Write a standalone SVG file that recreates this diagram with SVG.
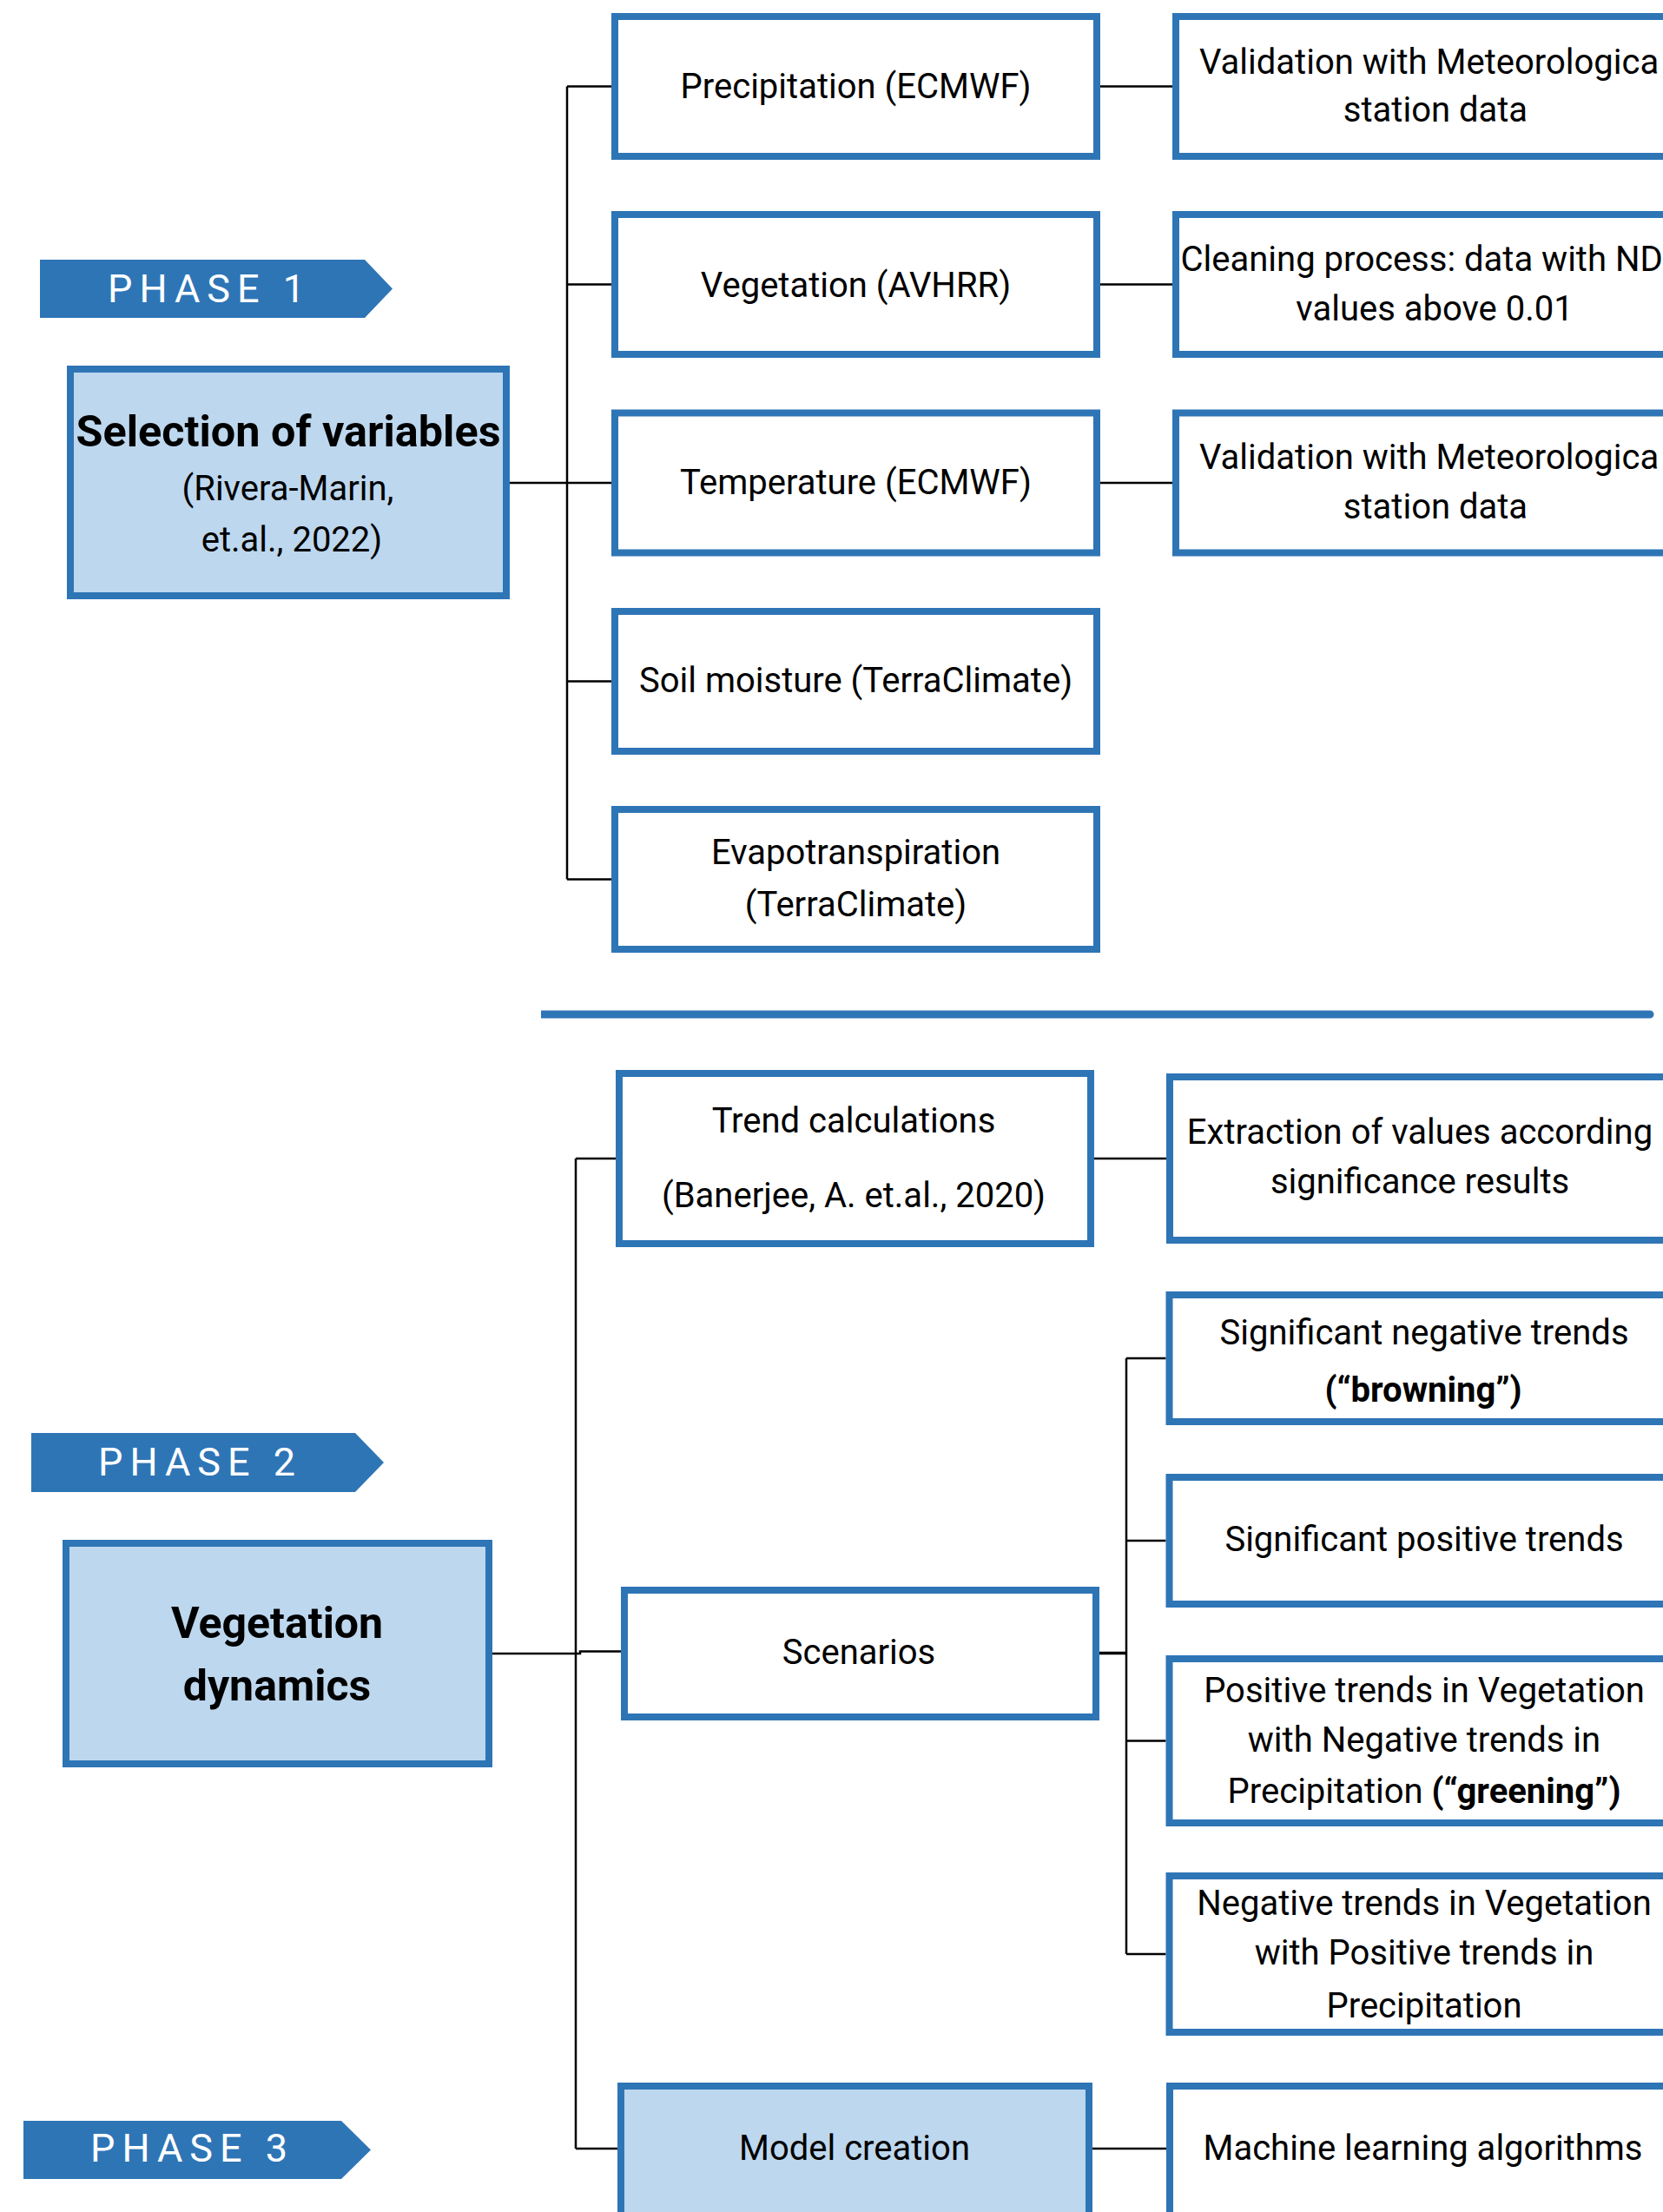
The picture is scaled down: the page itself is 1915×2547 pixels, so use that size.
<svg xmlns="http://www.w3.org/2000/svg" width="1915" height="2547" viewBox="0 0 1915 2547">
<style>
.box{fill:#FFFFFF;stroke:#2E75B6;stroke-width:8}
.hl{fill:#BDD7EE}
.phase{fill:#2E75B6}
.t{font-family:Roboto,"Noto Sans","Liberation Sans",sans-serif;font-size:40px;fill:#000}
.c{text-anchor:middle}
.b{font-weight:700}
.big{font-size:50px}
.pt{font-family:Roboto,"Noto Sans","Liberation Sans",sans-serif;font-size:45px;fill:#FFFFFF;letter-spacing:8px}
.conn{stroke:#000;stroke-width:2.5;fill:none}
</style>
<rect width="1915" height="2547" fill="#FFFFFF"/>

<g id="connectors">
  <path class="conn" d="M587 556 H653 M653 99.5 V1012.5 M653 99.5 H704 M653 327.5 H704 M653 556 H704 M653 784.5 H704 M653 1012.5 H704"/>
  <path class="conn" d="M1267 99.5 H1350 M1267 327.5 H1350 M1267 556 H1350"/>
  <path class="conn" d="M663 1334 V2474 M663 1334 H709 M1260 1334 H1343 M567 1904 H668 V1901.5 H715"/>
  <path class="conn" style="stroke-width:3.5" d="M1266 1903.5 H1297"/>
  <path class="conn" d="M1297 1564 V2250 M1297 1564 H1342.5 M1297 1774 H1342.5 M1297 2004.5 H1342.5 M1297 2250 H1342.5"/>
  <path class="conn" d="M663 2474 H711 M1258 2474 H1343"/>
</g>

<g id="separator">
  <path d="M623 1163.5 H1900 A4.5 4.5 0 0 1 1900 1172.5 H623 Z" fill="#2E75B6"/>
</g>

<g id="phase1">
  <polygon class="phase" points="46,299 420,299 452,332.5 420,366 46,366"/>
  <text class="pt" x="124" y="347.6">PHASE 1</text>
</g>
<g id="phase2">
  <polygon class="phase" points="36,1650 409,1650 442,1684 409,1718 36,1718"/>
  <text class="pt" x="113" y="1699">PHASE 2</text>
</g>
<g id="phase3">
  <polygon class="phase" points="27,2442 393,2442 427,2475.5 393,2509 27,2509"/>
  <text class="pt" x="104" y="2489">PHASE 3</text>
</g>

<g id="selection">
  <rect class="box hl" x="81" y="425" width="502" height="261"/>
  <text class="t c b big" x="332" y="514" textLength="489" lengthAdjust="spacingAndGlyphs">Selection of variables</text>
  <text class="t c" x="331.5" y="576">(Rivera-Marin,</text>
  <text class="t c" x="336" y="635">et.al., 2022)</text>
</g>

<g id="precipitation">
  <rect class="box" x="708" y="19" width="555" height="161"/>
  <text class="t c" x="985.5" y="112.5">Precipitation (ECMWF)</text>
</g>
<g id="vegetation">
  <rect class="box" x="708" y="247" width="555" height="161"/>
  <text class="t c" x="985.5" y="342">Vegetation (AVHRR)</text>
</g>
<g id="temperature">
  <rect class="box" x="708" y="475.5" width="555" height="161"/>
  <text class="t c" x="985.5" y="569">Temperature (ECMWF)</text>
</g>
<g id="soil">
  <rect class="box" x="708" y="704" width="555" height="161"/>
  <text class="t c" x="985.5" y="797">Soil moisture (TerraClimate)</text>
</g>
<g id="evapo">
  <rect class="box" x="708" y="932" width="555" height="161"/>
  <text class="t c" x="985.5" y="994.5">Evapotranspiration</text>
  <text class="t c" x="985.5" y="1055">(TerraClimate)</text>
</g>

<g id="validation1">
  <rect class="box" x="1354" y="19" width="620" height="161"/>
  <text class="t" x="1381" y="85">Validation with Meteorologica</text>
  <text class="t c" x="1653" y="140">station data</text>
</g>
<g id="cleaning">
  <rect class="box" x="1354" y="247" width="620" height="161"/>
  <text class="t" x="1359.5" y="312">Cleaning process: data with ND</text>
  <text class="t c" x="1652" y="368.7">values above 0.01</text>
</g>
<g id="validation2">
  <rect class="box" x="1354" y="475.5" width="620" height="161"/>
  <text class="t" x="1381" y="539.5">Validation with Meteorologica</text>
  <text class="t c" x="1653" y="597">station data</text>
</g>

<g id="vegdyn">
  <rect class="box hl" x="76" y="1777" width="487" height="254"/>
  <text class="t c b big" x="319" y="1886">Vegetation</text>
  <text class="t c b big" x="319" y="1958">dynamics</text>
</g>

<g id="trend">
  <rect class="box" x="713" y="1236" width="543" height="196"/>
  <text class="t c" x="983" y="1304">Trend calculations</text>
  <text class="t c" x="983" y="1390">(Banerjee, A. et.al., 2020)</text>
</g>
<g id="extraction">
  <rect class="box" x="1347" y="1240" width="620" height="188"/>
  <text class="t c" x="1635" y="1316.7">Extraction of values according</text>
  <text class="t c" x="1635" y="1374">significance results</text>
</g>
<g id="scenarios">
  <rect class="box" x="719" y="1831" width="543" height="146"/>
  <text class="t c" x="989" y="1916">Scenarios</text>
</g>
<g id="browning">
  <rect class="box" x="1346.5" y="1491" width="620" height="146"/>
  <text class="t c" x="1640" y="1547.6">Significant negative trends</text>
  <text class="t c b" x="1639" y="1613.6">(“browning”)</text>
</g>
<g id="positive">
  <rect class="box" x="1346.5" y="1701" width="620" height="146"/>
  <text class="t c" x="1640" y="1785.8">Significant positive trends</text>
</g>
<g id="greening">
  <rect class="box" x="1346.5" y="1910" width="620" height="189"/>
  <text class="t c" x="1640" y="1959.8">Positive trends in Vegetation</text>
  <text class="t c" x="1640" y="2017">with Negative trends in</text>
  <text class="t c" x="1640" y="2075.7">Precipitation <tspan class="b">(“greening”)</tspan></text>
</g>
<g id="negveg">
  <rect class="box" x="1346.5" y="2160" width="620" height="180"/>
  <text class="t c" x="1640" y="2205">Negative trends in Vegetation</text>
  <text class="t c" x="1640" y="2262">with Positive trends in</text>
  <text class="t c" x="1640" y="2322.6">Precipitation</text>
</g>

<g id="model">
  <rect class="box hl" x="715" y="2402" width="539" height="200"/>
  <text class="t c" x="984" y="2487">Model creation</text>
</g>
<g id="ml">
  <rect class="box" x="1347" y="2402" width="620" height="200"/>
  <text class="t c" x="1638.5" y="2487">Machine learning algorithms</text>
</g>
</svg>
